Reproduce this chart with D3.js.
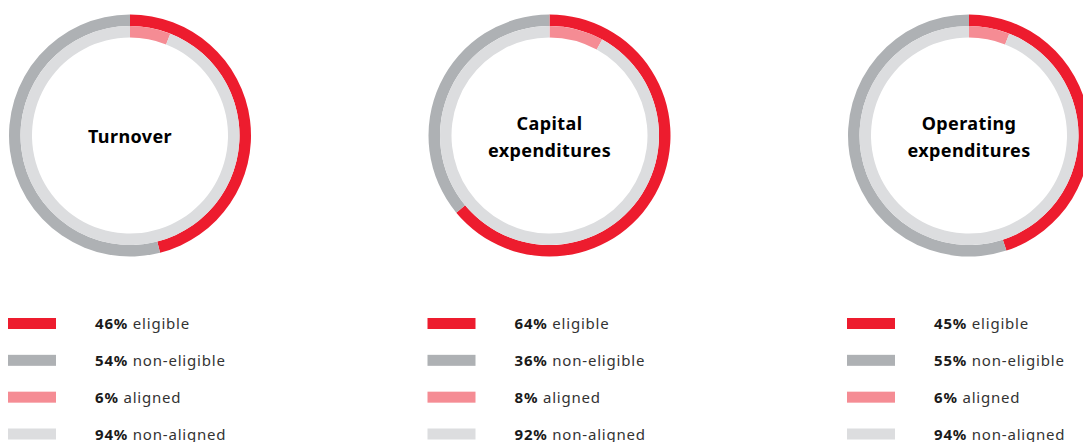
<!DOCTYPE html>
<html>
<head>
<meta charset="utf-8">
<script src="https://cdn.jsdelivr.net/npm/d3@7"></script>
<style>
  html, body { margin: 0; padding: 0; background: #fff; }
  svg { display: block; }
</style>
</head>
<body>
<svg id="chart" width="1083" height="442"></svg>
<script>
// EU taxonomy KPIs: eligibility (outer ring) and alignment (inner ring)
const categories = ["Turnover", "Capital expenditures", "Operating expenditures"];
const titleLines = [["Turnover"], ["Capital", "expenditures"], ["Operating", "expenditures"]];
const eligible = [46, 64, 45];
const nonEligible = [54, 36, 55];
const aligned = [6, 8, 6];
const nonAligned = [94, 92, 94];
const legendLabels = ["eligible", "non-eligible", "aligned", "non-aligned"];

const colors = {
  eligible: "#ED1C2E",
  nonEligible: "#AEB1B4",
  aligned: "#F58C94",
  nonAligned: "#DCDDDF"
};

const svg = d3.select("#chart");
const font = "'Noto Sans', sans-serif";

// panel layout
const panelX = d3.scaleLinear().domain([0, 2]).range([130, 969]);
const cy = 135.5;
const rOuter = 121, rMid = 109.5, rInner = 98;

const pie = d3.pie().sort(null).value(d => d);
const outerArc = d3.arc().innerRadius(rMid).outerRadius(rOuter);
const innerArc = d3.arc().innerRadius(rInner).outerRadius(rMid);

categories.forEach((cat, i) => {
  const g = svg.append("g")
    .attr("class", "donut")
    .attr("transform", `translate(${panelX(i)},${cy})`);

  // outer ring: eligible vs non-eligible
  g.selectAll("path.outer")
    .data(pie([eligible[i], nonEligible[i]]))
    .join("path")
    .attr("class", "outer")
    .attr("d", outerArc)
    .attr("fill", (d, j) => j === 0 ? colors.eligible : colors.nonEligible);

  // inner ring: aligned vs non-aligned
  g.selectAll("path.inner")
    .data(pie([aligned[i], nonAligned[i]]))
    .join("path")
    .attr("class", "inner")
    .attr("d", innerArc)
    .attr("fill", (d, j) => j === 0 ? colors.aligned : colors.nonAligned);

  // centre title
  const lines = titleLines[i];
  const lineH = 27;
  const firstBase = 7.5 - (lines.length - 1) * lineH / 2;
  g.append("text")
    .attr("text-anchor", "middle")
    .attr("font-family", font)
    .attr("font-weight", 700)
    .attr("font-size", 18)
    .attr("letter-spacing", 0.4)
    .attr("fill", "#000")
    .selectAll("tspan")
    .data(lines)
    .join("tspan")
    .attr("x", 0)
    .attr("y", (d, k) => firstBase + k * lineH)
    .text(d => d);

  // legend
  const legendValues = [eligible[i], nonEligible[i], aligned[i], nonAligned[i]];
  const legendColors = [colors.eligible, colors.nonEligible, colors.aligned, colors.nonAligned];
  const lx = panelX(i) - 122;
  const rowY = d3.scaleLinear().domain([0, 3]).range([323.5, 434]);

  const lg = svg.append("g").attr("class", "legend");
  legendValues.forEach((v, k) => {
    lg.append("rect")
      .attr("x", lx)
      .attr("y", rowY(k) - 5.5)
      .attr("width", 48)
      .attr("height", 11)
      .attr("fill", legendColors[k]);
    const t = lg.append("text")
      .attr("x", lx + 87)
      .attr("y", rowY(k) + 5.5)
      .attr("font-family", font)
      .attr("font-size", 15)
      .attr("letter-spacing", 0.8)
      .attr("fill", "#1a1a1a");
    t.append("tspan").attr("font-weight", 700).text(v + "%");
    t.append("tspan").attr("font-weight", 400).attr("fill", "#333").text(" " + legendLabels[k]);
  });
});
</script>
</body>
</html>
